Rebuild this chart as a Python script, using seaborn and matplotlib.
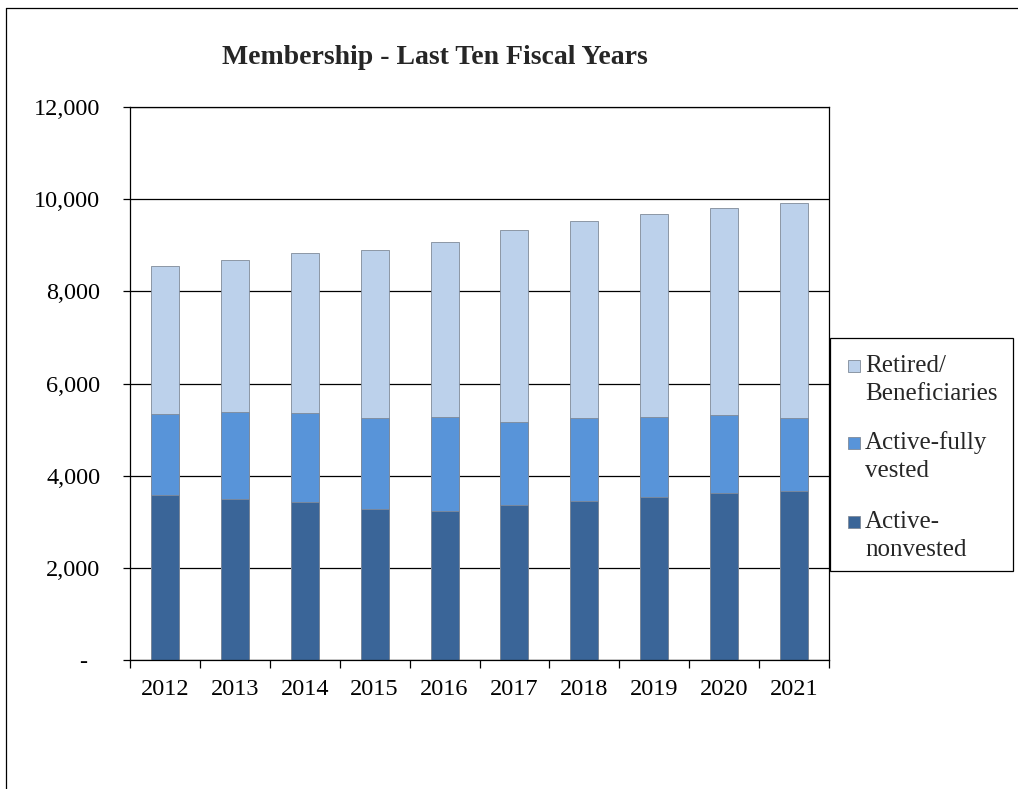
#Recreate "Membership - Last Ten Fiscal Years" stacked bar chart

#Import dependencies
import numpy as np
import pandas as pd
import matplotlib
matplotlib.use("Agg")
import matplotlib.pyplot as plt
import matplotlib.ticker as mticker
from matplotlib.lines import Line2D
from matplotlib.patches import Rectangle
import seaborn as sns

#Data
years = ['2012', '2013', '2014', '2015', '2016', '2017', '2018', '2019', '2020', '2021']
active_nonvested = [3590, 3503, 3430, 3271, 3227, 3373, 3445, 3539, 3626, 3663]
active_fully_vested = [1741, 1872, 1923, 1987, 2053, 1798, 1813, 1741, 1690, 1581]
retired_beneficiaries = [3212, 3314, 3482, 3649, 3795, 4156, 4265, 4388, 4498, 4664]

series_labels = [['Retired/', 'Beneficiaries'], ['Active-fully', 'vested'], ['Active-', 'nonvested']]
series_colors = ['#BCD1EB', '#5894D9', '#3A6598']
yticks = [0, 2000, 4000, 6000, 8000, 10000, 12000]

sns.set_theme(style="white")
plt.rcParams['font.family'] = ['Liberation Serif', 'DejaVu Serif']

W, H = 1018, 789

df = pd.DataFrame({
    'year': years,
    'nonvested': active_nonvested,
    'fully': active_fully_vested,
    'retired': retired_beneficiaries,
})
#Cumulative heights, drawn tallest first so each layer overlays the one above
df['top_fully'] = df['nonvested'] + df['fully']
df['top_retired'] = df['top_fully'] + df['retired']

fig = plt.figure(figsize=(W / 100, H / 100), dpi=100)
ax = fig.add_axes([130 / W, 1 - 660 / H, 699 / W, 553 / H])

for col, color in zip(['top_retired', 'top_fully', 'nonvested'], series_colors):
    sns.barplot(data=df, x='year', y=col, color=color, width=0.4,
                edgecolor='#7f8a99', linewidth=0.6, ax=ax, saturation=1)

ax.set_ylim(0, 12000)
ax.set_xlim(-0.5, len(years) - 0.5)
ax.set_yticks(yticks)
ax.yaxis.set_major_formatter(mticker.FuncFormatter(lambda v, p: '-  ' if v == 0 else f'{int(v):,}'))
ax.yaxis.grid(True, color='black', linewidth=0.9)
ax.set_axisbelow(True)
ax.set_xlabel('')
ax.set_ylabel('')

#Category ticks sit between bars
ax.set_xticks(np.arange(len(years)))
ax.set_xticklabels(years)
ax.tick_params(axis='x', length=0, labelsize=17.5, pad=14, colors='black')
ax.set_xticks(np.arange(-0.5, len(years)), minor=True)
ax.tick_params(axis='x', which='minor', length=5.5, width=0.9, direction='out', bottom=True, color='black')
ax.tick_params(axis='y', length=5, width=0.9, direction='out', left=True, labelsize=17.5, pad=16.5, colors='black')

for side in ['left', 'bottom', 'right', 'top']:
    ax.spines[side].set_visible(True)
    ax.spines[side].set_color('black')
    ax.spines[side].set_linewidth(0.9)

fig.text(435 / W, 1 - 57 / H, 'Membership - Last Ten Fiscal Years',
         ha='center', va='center', fontsize=20, fontweight='bold')

#Legend box: marker beside first line of each two-line label
fig.add_artist(Rectangle((830 / W, 1 - 571 / H), 183 / W, 233 / H, transform=fig.transFigure,
                         facecolor='white', edgecolor='black', linewidth=0.9))
first_line_y = [366, 443, 522]
for (line1, line2), color, y in zip(series_labels, series_colors, first_line_y):
    fig.add_artist(Rectangle((848 / W, 1 - (y + 6) / H), 12 / W, 12 / H, transform=fig.transFigure,
                             facecolor=color, edgecolor='#7f8a99', linewidth=0.6))
    fig.text(865 / W, 1 - y / H, line1, ha='left', va='center', fontsize=18)
    fig.text(865 / W, 1 - (y + 28) / H, line2, ha='left', va='center', fontsize=18)

#Outer chart border (left and top only)
fig.add_artist(Line2D([6 / W, 6 / W], [0, 1 - 8 / H], color='black', linewidth=0.9, transform=fig.transFigure))
fig.add_artist(Line2D([6 / W, 1], [1 - 8 / H, 1 - 8 / H], color='black', linewidth=0.9, transform=fig.transFigure))

plt.savefig('out.png', dpi=100)
